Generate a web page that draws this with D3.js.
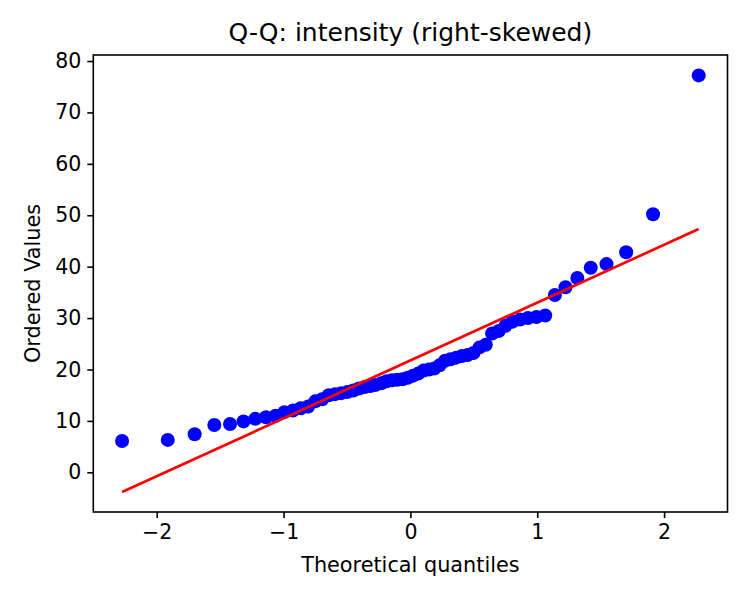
<!DOCTYPE html>
<html>
<head>
<meta charset="utf-8">
<script src="https://cdn.jsdelivr.net/npm/d3@7/dist/d3.min.js"></script>
<style>
  body { margin: 0; background: #fff; }
  svg { font-family: "DejaVu Sans", sans-serif; }
</style>
</head>
<body>
<svg id="chart"></svg>
<script>
"use strict";

// theoretical normal quantiles (n = 60)
var quantiles = [
    -2.273, -1.913, -1.701, -1.546, -1.422, -1.316, -1.223, -1.139, -1.063, -0.993,
    -0.927, -0.865, -0.806, -0.750, -0.696, -0.644, -0.594, -0.545, -0.497, -0.451,
    -0.405, -0.361, -0.316, -0.273, -0.230, -0.188, -0.146, -0.104, -0.062, -0.021,
    0.021, 0.062, 0.104, 0.146, 0.188, 0.230, 0.273, 0.316, 0.361, 0.405,
    0.451, 0.497, 0.545, 0.594, 0.644, 0.696, 0.750, 0.806, 0.865, 0.927,
    0.993, 1.063, 1.139, 1.223, 1.316, 1.422, 1.546, 1.701, 1.913, 2.273
];

// ordered sample values (intensity)
var orderedValues = [
    6.1, 6.3, 7.4, 9.2, 9.4, 9.9, 10.4, 10.7, 11.0, 11.7,
    12.0, 12.45, 12.8, 13.8, 14.2, 15.0, 15.2, 15.4, 15.6, 15.9,
    16.3, 16.6, 16.8, 17.0, 17.3, 17.7, 17.9, 18.0, 18.1, 18.4,
    18.8, 19.2, 19.8, 20.0, 20.2, 20.8, 21.7, 22.0, 22.3, 22.6,
    22.8, 23.2, 24.3, 24.8, 27.0, 27.5, 28.5, 29.3, 29.7, 30.0,
    30.2, 30.5, 34.5, 36.0, 37.8, 39.8, 40.5, 42.8, 50.2, 77.2
];

// least squares fit line
var fitSlope = 11.25;
var fitIntercept = 21.75;

var xTicks = [-2, -1, 0, 1, 2];
var yTicks = [0, 10, 20, 30, 40, 50, 60, 70, 80];

var width = 750, height = 600;
var plotLeft = 93.3, plotRight = 727.5, plotTop = 55, plotBottom = 512;

var svg = d3.select('#chart')
    .attr('width', width)
    .attr('height', height);

var x = d3.scaleLinear().domain([-2.5, 2.5]).range([plotLeft, plotRight]);
var y = d3.scaleLinear().domain([-7.72, 81.17]).range([plotBottom, plotTop]);

var points = quantiles.map(function(q, i) {
    return { q: q, v: orderedValues[i] };
});

var plot = svg.append('g');

plot.selectAll('circle')
    .data(points)
    .enter()
    .append('circle')
        .attr('cx', d => x(d.q))
        .attr('cy', d => y(d.v))
        .attr('r', 7)
        .attr('fill', '#0000ff');

var qExtent = d3.extent(quantiles);
plot.append('line')
    .attr('x1', x(qExtent[0]))
    .attr('y1', y(fitIntercept + fitSlope * qExtent[0]))
    .attr('x2', x(qExtent[1]))
    .attr('y2', y(fitIntercept + fitSlope * qExtent[1]))
    .attr('stroke', '#ff0000')
    .attr('stroke-width', 2.7);

// axes
var fmt = d => (d < 0 ? '\u2212' + Math.abs(d) : String(d));

var xAxis = svg.append('g')
    .attr('transform', `translate(0,${plotBottom})`)
    .call(d3.axisBottom(x).tickValues(xTicks).tickFormat(fmt).tickSize(6).tickPadding(6));

var yAxis = svg.append('g')
    .attr('transform', `translate(${plotLeft},0)`)
    .call(d3.axisLeft(y).tickValues(yTicks).tickFormat(fmt).tickSize(6).tickPadding(6));

[xAxis, yAxis].forEach(function(a) {
    a.select('.domain').remove();
    a.selectAll('.tick line').attr('stroke', '#000').attr('stroke-width', 1.6);
    a.selectAll('.tick text')
        .attr('fill', '#000')
        .style('font-size', '20.5px')
        .style('font-family', '"DejaVu Sans", sans-serif');
});

// frame
svg.append('rect')
    .attr('x', plotLeft)
    .attr('y', plotTop)
    .attr('width', plotRight - plotLeft)
    .attr('height', plotBottom - plotTop)
    .attr('fill', 'none')
    .attr('stroke', '#000')
    .attr('stroke-width', 1.6);

svg.append('text')
    .attr('x', (plotLeft + plotRight) / 2)
    .attr('y', 41)
    .attr('text-anchor', 'middle')
    .style('font-size', '25px')
    .text('Q-Q: intensity (right-skewed)');

svg.append('text')
    .attr('x', (plotLeft + plotRight) / 2)
    .attr('y', 572)
    .attr('text-anchor', 'middle')
    .style('font-size', '20.8px')
    .text('Theoretical quantiles');

svg.append('text')
    .attr('transform', `translate(40,${(plotTop + plotBottom) / 2}) rotate(-90)`)
    .attr('text-anchor', 'middle')
    .style('font-size', '20.8px')
    .text('Ordered Values');
</script>
</body>
</html>
